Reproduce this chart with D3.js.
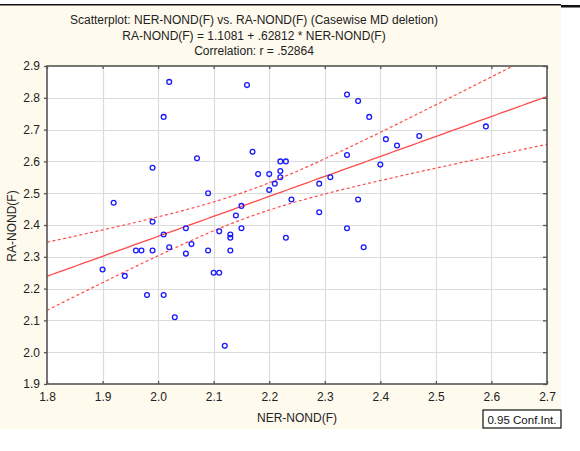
<!DOCTYPE html>
<html>
<head>
<meta charset="utf-8">
<script src="https://cdn.jsdelivr.net/npm/d3@7"></script>
<style>
  body { margin: 0; background: #fff; }
  svg { display: block; font-family: "Liberation Sans", Arial, sans-serif; }
</style>
</head>
<body>
<svg id="chart" width="580" height="451"></svg>
<script>
// NER-NOND(F) values
const nerNond = [
  2.02, 2.01, 2.07, 1.99, 2.09, 1.92, 1.99, 2.14, 2.05, 2.15,
  2.16, 2.34, 2.36, 2.38, 2.17, 2.41, 2.43, 2.47, 2.34, 2.22,
  2.23, 2.18, 2.20, 2.22, 2.22, 2.21, 2.20, 2.40, 2.31, 2.29,
  2.24, 2.36, 2.29, 2.15, 2.34, 2.01, 2.11, 2.13, 2.13, 2.02,
  2.06, 1.96, 1.97, 1.99, 2.05, 2.09, 2.13, 1.90, 1.94, 2.10,
  2.11, 1.98, 2.01, 2.03, 2.12, 2.23, 2.37, 2.59
];
// RA-NOND(F) values, same order
const raNond = [
  2.85, 2.74, 2.61, 2.58, 2.50, 2.47, 2.41, 2.43, 2.39, 2.46,
  2.84, 2.81, 2.79, 2.74, 2.63, 2.67, 2.65, 2.68, 2.62, 2.60,
  2.60, 2.56, 2.56, 2.57, 2.55, 2.53, 2.51, 2.59, 2.55, 2.53,
  2.48, 2.48, 2.44, 2.39, 2.39, 2.37, 2.38, 2.37, 2.36, 2.33,
  2.34, 2.32, 2.32, 2.32, 2.31, 2.32, 2.32, 2.26, 2.24, 2.25,
  2.25, 2.18, 2.18, 2.11, 2.02, 2.36, 2.33, 2.71
];
const xTicks = [1.8, 1.9, 2.0, 2.1, 2.2, 2.3, 2.4, 2.5, 2.6, 2.7];
const yTicks = [1.9, 2.0, 2.1, 2.2, 2.3, 2.4, 2.5, 2.6, 2.7, 2.8, 2.9];
const titleLines = [
  "Scatterplot: NER-NOND(F) vs. RA-NOND(F) (Casewise MD deletion)",
  "RA-NOND(F) = 1.1081 + .62812 * NER-NOND(F)",
  "Correlation: r = .52864"
];
const intercept = 1.1081, slope = 0.62812;
const tCrit = 2.003; // t(0.975, df=56)

const svg = d3.select("#chart");
const pL = 47, pR = 547, pT = 66, pB = 384;

const x = d3.scaleLinear().domain([1.8, 2.7]).range([pL, pR]);
const y = d3.scaleLinear().domain([1.9, 2.9]).range([pB, pT]);

// page backdrop
svg.append("rect").attr("x", 0).attr("y", 5).attr("width", 561).attr("height", 424)
  .attr("fill", "#fffaee");
svg.append("rect").attr("x", 0).attr("y", 4).attr("width", 561).attr("height", 1.5).attr("fill", "#111");
svg.append("rect").attr("x", 561).attr("y", 5).attr("width", 19).attr("height", 2.5).attr("fill", "#111");

// plot background
svg.append("rect").attr("x", pL).attr("y", pT)
  .attr("width", pR - pL).attr("height", pB - pT).attr("fill", "#fff");

// grid
const grid = svg.append("g").attr("stroke", "#dcdcdc").attr("stroke-width", 1.2);
grid.selectAll(".gx").data(xTicks.slice(1, -1)).join("line")
  .attr("x1", d => Math.round(x(d)) + 0.5).attr("x2", d => Math.round(x(d)) + 0.5)
  .attr("y1", pT).attr("y2", pB);
grid.selectAll(".gy").data(yTicks.slice(1, -1)).join("line")
  .attr("y1", d => Math.round(y(d)) + 0.5).attr("y2", d => Math.round(y(d)) + 0.5)
  .attr("x1", pL).attr("x2", pR);

// regression + confidence band, computed from the points
const n = nerNond.length;
const xbar = d3.mean(nerNond);
const sxx = d3.sum(nerNond, v => (v - xbar) ** 2);
const sse = d3.sum(nerNond, (v, i) => (raNond[i] - (intercept + slope * v)) ** 2);
const s = Math.sqrt(sse / (n - 2));
const xs = d3.range(0, 101).map(i => 1.8 + i * 0.009);
const fit = v => intercept + slope * v;
const hw = v => tCrit * s * Math.sqrt(1 / n + (v - xbar) ** 2 / sxx);

svg.append("clipPath").attr("id", "plotclip").append("rect")
  .attr("x", pL).attr("y", pT).attr("width", pR - pL).attr("height", pB - pT);
const lines = svg.append("g").attr("clip-path", "url(#plotclip)").attr("fill", "none");
const line = d3.line().x(d => x(d[0])).y(d => y(d[1]));
lines.append("path").attr("d", line(xs.map(v => [v, fit(v)])))
  .attr("stroke", "#ff4a4a").attr("stroke-width", 1.3);
[1, -1].forEach(sign => {
  lines.append("path").attr("d", line(xs.map(v => [v, fit(v) + sign * hw(v)])))
    .attr("stroke", "#ff4a4a").attr("stroke-width", 1.2).attr("stroke-dasharray", "3,2.5");
});

// points
svg.append("g").selectAll("circle").data(nerNond).join("circle")
  .attr("cx", d => x(d)).attr("cy", (d, i) => y(raNond[i])).attr("r", 2.4)
  .attr("fill", "none").attr("stroke", "#1a1aff").attr("stroke-width", 1.3);

// axes frame
const axisColor = "#555";
svg.append("rect").attr("x", pL).attr("y", pT)
  .attr("width", pR - pL).attr("height", pB - pT)
  .attr("fill", "none").attr("stroke", axisColor).attr("stroke-width", 1.6);

const xAxis = d3.axisBottom(x).tickValues(xTicks).tickFormat(d3.format(".1f"))
  .tickSizeInner(-3).tickSizeOuter(0).tickPadding(8);
const gx = svg.append("g").attr("transform", `translate(0,${pB})`).call(xAxis);
gx.select(".domain").remove();
gx.selectAll("line").attr("stroke", axisColor).attr("stroke-width", 1.3);
gx.selectAll("text").attr("font-size", 12).attr("fill", "#222");

const xTop = svg.append("g").attr("transform", `translate(0,${pT})`)
  .call(d3.axisTop(x).tickValues(xTicks).tickSizeInner(-3).tickSizeOuter(0).tickFormat(""));
xTop.select(".domain").remove();
xTop.selectAll("line").attr("stroke", axisColor).attr("stroke-width", 1.3);

const yAxis = d3.axisLeft(y).tickValues(yTicks).tickFormat(d3.format(".1f"))
  .tickSizeInner(3).tickSizeOuter(0).tickPadding(4);
const gy = svg.append("g").attr("transform", `translate(${pL},0)`).call(yAxis);
gy.select(".domain").remove();
gy.selectAll("line").attr("stroke", axisColor).attr("stroke-width", 1.3);
gy.selectAll("text").attr("font-size", 12).attr("fill", "#222");

const yRight = svg.append("g").attr("transform", `translate(${pR},0)`)
  .call(d3.axisRight(y).tickValues(yTicks).tickSizeInner(-4).tickSizeOuter(0).tickFormat(""));
yRight.select(".domain").remove();
yRight.selectAll("line").attr("stroke", axisColor).attr("stroke-width", 1.3);

// titles
svg.append("g").selectAll("text").data(titleLines).join("text")
  .attr("x", 254).attr("y", (d, i) => 24 + i * 15.5)
  .attr("text-anchor", "middle").attr("font-size", 12).attr("fill", "#222")
  .text(d => d);

svg.append("text").attr("x", 297).attr("y", 422).attr("text-anchor", "middle")
  .attr("font-size", 12).attr("fill", "#222").text("NER-NOND(F)");
svg.append("text").attr("transform", "translate(16,226) rotate(-90)")
  .attr("text-anchor", "middle").attr("font-size", 12).attr("fill", "#222").text("RA-NOND(F)");

// legend box
const lg = svg.append("g").attr("transform", "translate(483,410)");
lg.append("rect").attr("width", 78).attr("height", 18)
  .attr("fill", "#fff").attr("stroke", "#111").attr("stroke-width", 1.2);
lg.append("text").attr("x", 39).attr("y", 13.5).attr("text-anchor", "middle")
  .attr("font-size", 11.5).attr("fill", "#111").text("0.95 Conf.Int.");
</script>
</body>
</html>
